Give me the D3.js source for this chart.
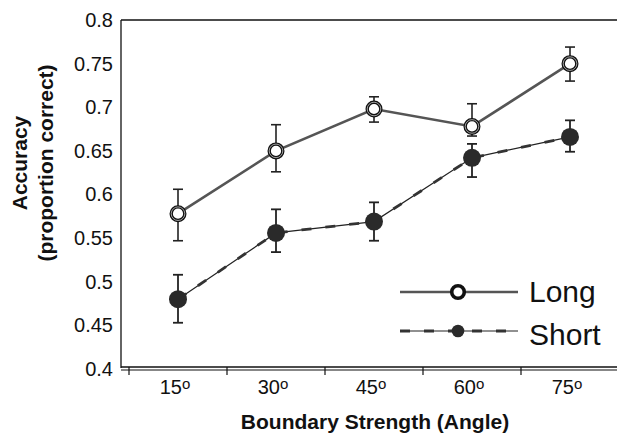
<!DOCTYPE html>
<html lang="en">
<head>
    <meta charset="UTF-8">
    <script src="https://cdn.jsdelivr.net/npm/d3@7"></script>
    <title>Accuracy by Boundary Strength</title>
    <style>
        body { margin: 0; background: #fff; font-family: "Liberation Sans", Arial, sans-serif; }
        svg { display: block; }
        .tick-label { font-size: 20px; fill: #111; }
        .axis-title { font-size: 21px; font-weight: bold; fill: #111; }
        .legend-label { font-size: 30px; fill: #111; }
    </style>
</head>
<body>
    <div id="chart"></div>

    <script>
        // values
        const categories = ["15", "30", "45", "60", "75"];
        const longMean = [0.578, 0.650, 0.698, 0.678, 0.750];
        const longLo   = [0.547, 0.626, 0.683, 0.667, 0.730];
        const longHi   = [0.606, 0.680, 0.712, 0.704, 0.769];
        const shortMean = [0.480, 0.556, 0.569, 0.642, 0.666];
        const shortLo   = [0.453, 0.534, 0.547, 0.620, 0.649];
        const shortHi   = [0.508, 0.583, 0.591, 0.658, 0.685];
        const yTicks = [0.4, 0.45, 0.5, 0.55, 0.6, 0.65, 0.7, 0.75, 0.8];
        const yTickLabels = ["0.4", "0.45", "0.5", "0.55", "0.6", "0.65", "0.7", "0.75", "0.8"];
        const seriesNames = ["Long", "Short"];

        const width = 617, height = 434;
        const plotLeft = 121, plotTop = 20, plotBottom = 369;

        const svg = d3.select("#chart").append("svg")
            .attr("width", width)
            .attr("height", height);

        const x = d3.scaleBand().domain(categories).range([129, 619]);
        const y = d3.scaleLinear().domain([0.4, 0.8]).range([plotBottom, plotTop]);

        // frame: left line, top line, double bottom line
        svg.append("line").attr("x1", plotLeft).attr("x2", plotLeft).attr("y1", y(0.8)).attr("y2", plotBottom - 1)
            .attr("stroke", "#111").attr("stroke-width", 1.3);
        svg.append("line").attr("x1", plotLeft).attr("x2", width).attr("y1", y(0.8)).attr("y2", y(0.8))
            .attr("stroke", "#111").attr("stroke-width", 1.3);
        svg.append("line").attr("x1", plotLeft).attr("x2", width).attr("y1", plotBottom - 2).attr("y2", plotBottom - 2)
            .attr("stroke", "#111").attr("stroke-width", 1.3);
        svg.append("line").attr("x1", plotLeft).attr("x2", width).attr("y1", plotBottom + 1).attr("y2", plotBottom + 1)
            .attr("stroke", "#111").attr("stroke-width", 1.1);

        // y axis labels
        const yAxis = svg.append("g")
            .attr("transform", `translate(${plotLeft},0)`)
            .call(d3.axisLeft(y).tickValues(yTicks).tickSize(0).tickPadding(8)
                .tickFormat((d, i) => yTickLabels[i]));
        yAxis.select(".domain").remove();
        yAxis.attr("font-family", null).attr("font-size", null);
        yAxis.selectAll("text").attr("class", "tick-label");

        // x tick marks at band edges
        svg.selectAll(".xtick").data(categories).enter().append("line")
            .attr("class", "xtick")
            .attr("x1", d => x(d)).attr("x2", d => x(d))
            .attr("y1", plotBottom - 2).attr("y2", plotBottom + 6)
            .attr("stroke", "#111").attr("stroke-width", 1.2);

        // x labels with raised small "o"
        const xl = svg.selectAll(".xlabel").data(categories).enter().append("text")
            .attr("class", "tick-label")
            .attr("x", d => x(d) + x.bandwidth() / 2 - 3)
            .attr("y", 394)
            .attr("text-anchor", "middle");
        xl.append("tspan").text(d => d);
        xl.append("tspan").attr("font-size", 15).attr("dy", -5).text("o");

        // axis titles
        svg.append("text").attr("class", "axis-title")
            .attr("x", 375).attr("y", 429).attr("text-anchor", "middle")
            .text("Boundary Strength (Angle)");
        svg.append("text").attr("class", "axis-title")
            .attr("transform", "translate(27,163) rotate(-90)").attr("text-anchor", "middle")
            .text("Accuracy");
        svg.append("text").attr("class", "axis-title")
            .attr("transform", "translate(53,163) rotate(-90)").attr("text-anchor", "middle")
            .text("(proportion correct)");

        const cx = d => x(d) + x.bandwidth() / 2;
        const longData = categories.map((c, i) => ({ c, m: longMean[i], lo: longLo[i], hi: longHi[i] }));
        const shortData = categories.map((c, i) => ({ c, m: shortMean[i], lo: shortLo[i], hi: shortHi[i] }));

        // error bars
        function errorBars(data, cap, sw) {
            const g = svg.append("g").attr("stroke", "#222").attr("stroke-width", sw);
            data.forEach(d => {
                g.append("line").attr("x1", cx(d.c)).attr("x2", cx(d.c)).attr("y1", y(d.lo)).attr("y2", y(d.hi));
                g.append("line").attr("x1", cx(d.c) - cap).attr("x2", cx(d.c) + cap).attr("y1", y(d.lo)).attr("y2", y(d.lo));
                g.append("line").attr("x1", cx(d.c) - cap).attr("x2", cx(d.c) + cap).attr("y1", y(d.hi)).attr("y2", y(d.hi));
            });
        }
        errorBars(longData, 5, 1.6);
        errorBars(shortData, 5, 1.8);

        const line = d3.line().x(d => cx(d.c)).y(d => y(d.m));

        // long: solid gray line
        svg.append("path").datum(longData).attr("d", line)
            .attr("fill", "none").attr("stroke", "#555").attr("stroke-width", 2.6);

        // short: thin dark line with thicker dashes
        svg.append("path").datum(shortData).attr("d", line)
            .attr("fill", "none").attr("stroke", "#222").attr("stroke-width", 1.2);
        svg.append("path").datum(shortData).attr("d", line)
            .attr("fill", "none").attr("stroke", "#333").attr("stroke-width", 2.8)
            .attr("stroke-dasharray", "10,14");

        // markers
        svg.selectAll(".long-dot").data(longData).enter().append("circle")
            .attr("class", "long-dot")
            .attr("cx", d => cx(d.c)).attr("cy", d => y(d.m)).attr("r", 6.8)
            .attr("fill", "#fff").attr("stroke", "#111").attr("stroke-width", 3.4);
        svg.selectAll(".long-ring").data(longData).enter().append("circle")
            .attr("class", "long-ring")
            .attr("cx", d => cx(d.c)).attr("cy", d => y(d.m)).attr("r", 6.8)
            .attr("fill", "none").attr("stroke", "#fff").attr("stroke-width", 0.6);
        svg.selectAll(".short-dot").data(shortData).enter().append("circle")
            .attr("class", "short-dot")
            .attr("cx", d => cx(d.c)).attr("cy", d => y(d.m)).attr("r", 9)
            .attr("fill", "#2a2a2a");

        // legend
        const legend = svg.append("g");
        const lx0 = 400, lx1 = 518, lmx = 458;
        legend.append("line").attr("x1", lx0).attr("x2", lx1).attr("y1", 292).attr("y2", 292)
            .attr("stroke", "#555").attr("stroke-width", 2.6);
        legend.append("circle").attr("cx", lmx).attr("cy", 292).attr("r", 6.3)
            .attr("fill", "#fff").attr("stroke", "#111").attr("stroke-width", 3.6);
        legend.append("line").attr("x1", lx0).attr("x2", lx1).attr("y1", 331).attr("y2", 331)
            .attr("stroke", "#222").attr("stroke-width", 1.2);
        legend.append("line").attr("x1", lx0).attr("x2", lx1).attr("y1", 331).attr("y2", 331)
            .attr("stroke", "#333").attr("stroke-width", 2.8).attr("stroke-dasharray", "10,14");
        legend.append("circle").attr("cx", lmx).attr("cy", 331).attr("r", 6.3).attr("fill", "#2a2a2a");
        legend.selectAll(".legend-label").data(seriesNames).enter().append("text")
            .attr("class", "legend-label")
            .attr("x", 529)
            .attr("y", (d, i) => 302 + i * 43)
            .text(d => d);
    </script>
</body>
</html>
